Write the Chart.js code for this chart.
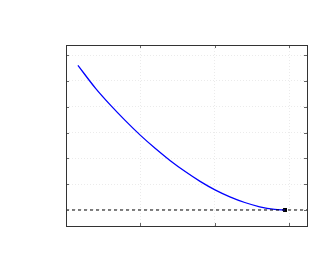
<!DOCTYPE html>
<html>
<head>
<meta charset="utf-8">
<script src="https://cdn.jsdelivr.net/npm/chart.js@4.4.1/dist/chart.umd.min.js"></script>
<style>
  html, body { margin: 0; padding: 0; background: #fff; }
</style>
</head>
<body>
<canvas id="chart" width="334" height="275"></canvas>
<script>
// values
const curveX = [0.16, 0.4, 0.6, 0.8, 1.0, 1.2, 1.4, 1.6, 1.8, 2.0, 2.2, 2.4, 2.6, 2.8, 2.94];
const curveY = [5.60, 4.70, 4.05, 3.45, 2.89, 2.38, 1.91, 1.49, 1.11, 0.78, 0.51, 0.29, 0.125, 0.025, 0];
const markerX = [2.94];
const markerY = [0];
const baseY = 0;
const xTicks = [0, 1, 2, 3];
const yTicks = [0, 1, 2, 3, 4, 5, 6];
const xRange = [0, 3.235];
const yRange = [-0.62, 6.39];

function byId(id) {
  return document.getElementById(id);
}

function toPoints(xs, ys) {
  return xs.map((x, i) => ({ x, y: ys[i] }));
}

// inner tick marks and the box, matlab style
const boxTicks = {
  id: 'boxTicks',
  afterDraw(chart) {
    const { ctx, chartArea: a, scales: { x, y } } = chart;
    ctx.save();
    ctx.strokeStyle = '#666';
    ctx.lineWidth = 1;
    ctx.beginPath();
    xTicks.forEach(v => {
      const px = Math.round(x.getPixelForValue(v)) + 0.5;
      ctx.moveTo(px, a.bottom); ctx.lineTo(px, a.bottom - 3);
      ctx.moveTo(px, a.top); ctx.lineTo(px, a.top + 3);
    });
    yTicks.forEach(v => {
      const py = Math.round(y.getPixelForValue(v)) + 0.5;
      ctx.moveTo(a.left, py); ctx.lineTo(a.left + 3, py);
      ctx.moveTo(a.right, py); ctx.lineTo(a.right - 3, py);
    });
    ctx.stroke();
    ctx.strokeStyle = '#333';
    ctx.strokeRect(Math.round(a.left) + 0.5, Math.round(a.top) + 0.5,
      Math.round(a.right - a.left), Math.round(a.bottom - a.top));
    ctx.restore();
  }
};

const gridOpts = { color: '#ebebeb', lineWidth: 1, drawTicks: false };

new Chart(byId('chart').getContext('2d'), {
  type: 'line',
  data: {
    datasets: [
      {
        data: toPoints(xRange, [baseY, baseY]),
        borderColor: '#000',
        borderWidth: 1,
        borderDash: [3, 3],
        pointRadius: 0
      },
      {
        data: toPoints(curveX, curveY),
        borderColor: '#0000ff',
        borderWidth: 1.3,
        cubicInterpolationMode: 'monotone',
        pointRadius: 0
      },
      {
        data: toPoints(markerX, markerY),
        showLine: false,
        pointStyle: 'rect',
        pointRadius: 2.8,
        backgroundColor: '#000',
        borderColor: '#000',
        borderWidth: 0
      }
    ]
  },
  options: {
    responsive: false,
    animation: false,
    layout: { padding: { left: 66, top: 45, right: 27, bottom: 49 } },
    plugins: { legend: { display: false }, tooltip: { enabled: false } },
    scales: {
      x: {
        type: 'linear',
        min: xRange[0],
        max: xRange[1],
        grid: gridOpts,
        border: { display: false, dash: [1, 2] },
        ticks: { display: false },
        afterBuildTicks: s => { s.ticks = xTicks.map(v => ({ value: v })); }
      },
      y: {
        min: yRange[0],
        max: yRange[1],
        grid: gridOpts,
        border: { display: false, dash: [1, 2] },
        ticks: { display: false },
        afterBuildTicks: s => { s.ticks = yTicks.map(v => ({ value: v })); }
      }
    }
  },
  plugins: [boxTicks]
});
</script>
</body>
</html>
